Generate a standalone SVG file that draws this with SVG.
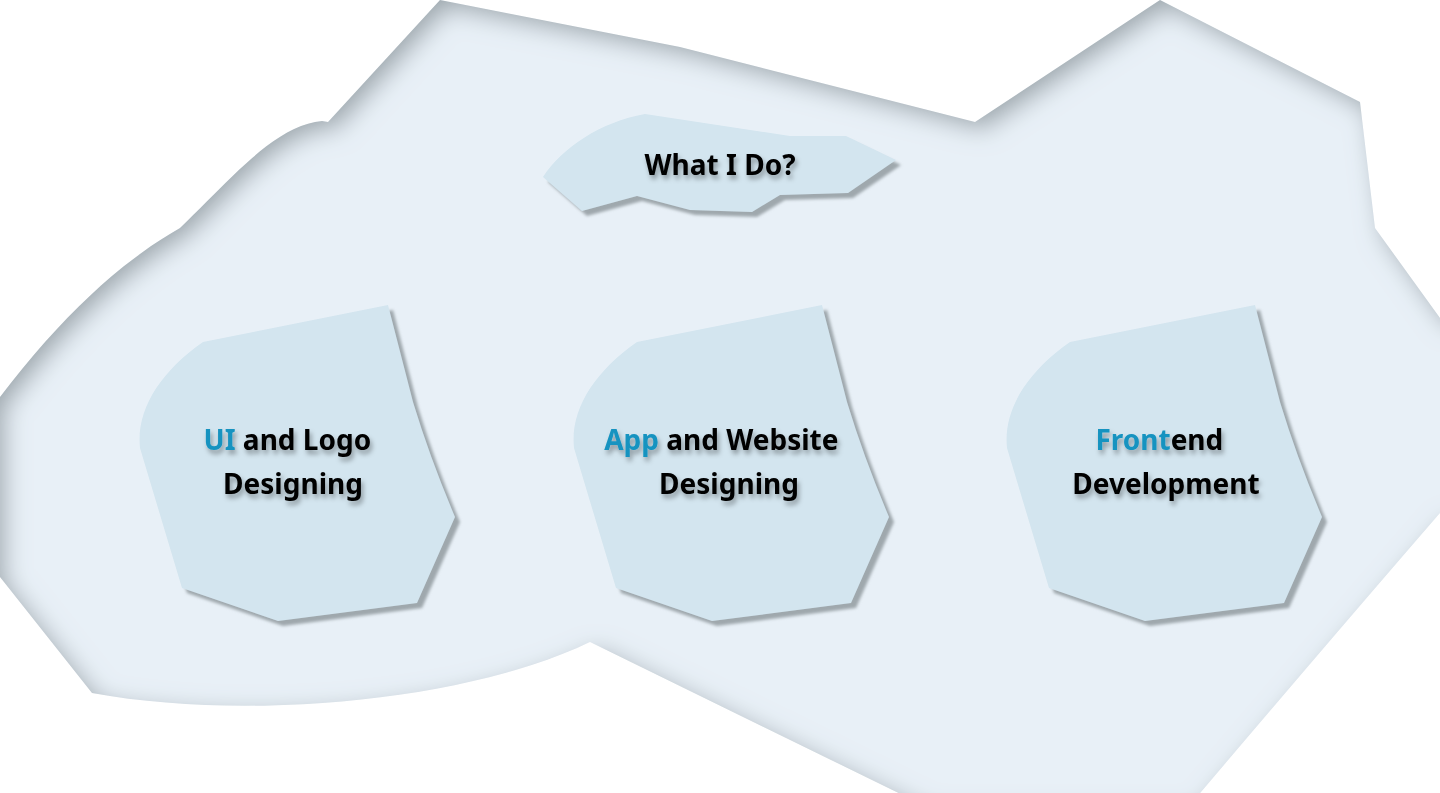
<svg xmlns="http://www.w3.org/2000/svg" width="1440" height="793" viewBox="0 0 1440 793">
  <defs>
    <!-- soft inner shading along the edges of the backdrop -->
    <filter id="innerShade" x="-5%" y="-5%" width="110%" height="110%">
      <feComponentTransfer in="SourceAlpha" result="inv">
        <feFuncA type="table" tableValues="1 0"/>
      </feComponentTransfer>
      <feOffset dx="8" dy="8"/>
      <feGaussianBlur stdDeviation="12" result="blur"/>
      <feFlood flood-color="#8a959b" flood-opacity="0.85"/>
      <feComposite in2="blur" operator="in"/>
      <feComposite in2="SourceAlpha" operator="in" result="shade"/>
      <feMerge>
        <feMergeNode in="SourceGraphic"/>
        <feMergeNode in="shade"/>
      </feMerge>
    </filter>
    <!-- cast shadow under the panels -->
    <filter id="panelShadow" x="-10%" y="-10%" width="125%" height="125%">
      <feGaussianBlur in="SourceAlpha" stdDeviation="1.8"/>
      <feOffset dx="5" dy="5" result="off"/>
      <feFlood flood-color="#9ba4a9" flood-opacity="0.95"/>
      <feComposite in2="off" operator="in"/>
      <feMerge>
        <feMergeNode/>
        <feMergeNode in="SourceGraphic"/>
      </feMerge>
    </filter>
    <!-- blurred shadow behind labels -->
    <filter id="textShadow" x="-10%" y="-30%" width="120%" height="170%">
      <feDropShadow dx="2" dy="4" stdDeviation="2.5" flood-color="#000" flood-opacity="0.35"/>
    </filter>
    <path id="panel" d="M 203,342 L 388,305 L 413,402 Q 430,458 455,517 L 417,603 L 278,621 L 182,588 L 140,448 C 136,410 160,372 203,342 Z"/>
  </defs>
  <style>
    .backdrop { fill: #e8f0f7; }
    .panel { fill: #d3e5ef; }
    .label { font-family: "Noto Sans", "Liberation Sans", sans-serif; font-weight: 700; font-size: 28px; fill: #000; text-anchor: middle; }
    .accent { fill: #1793c0; }
  </style>

  <rect width="1440" height="793" fill="#ffffff"/>

  <!-- backdrop -->
  <g id="backdrop" filter="url(#innerShade)">
    <path class="backdrop" d="M 440,0 L 680,47 L 975,122 L 1160,0 L 1360,102 L 1375,228 L 1440,318 L 1475,318 L 1475,513 L 1440,513 Q 1330,640 1190,805 L 923,805 L 590,642 C 470,700 250,722 92,693 L 0,577 L -3,577 L -3,397 L 0,397 C 60,318 120,262 180,228 C 230,180 275,125 322,121 L 328,122 Z"/>
  </g>

  <g id="connectors"/>

  <g id="title">
    <path class="panel" filter="url(#panelShadow)" d="M 543,177 C 562,148 600,122 645,114 L 790,136 L 846,136 L 896,160 L 848,193 L 780,195 L 752,212 L 690,210 L 637,196 L 582,211 Z"/>
    <text class="label" x="720" y="175" filter="url(#textShadow)">What I Do?</text>
  </g>

  <g id="node-ui-logo">
    <use href="#panel" class="panel" filter="url(#panelShadow)"/>
    <text class="label" filter="url(#textShadow)">
      <tspan x="291" y="450"><tspan class="accent">UI</tspan> and Logo</tspan>
      <tspan x="293" y="494">Designing</tspan>
    </text>
  </g>

  <g id="node-app-website" transform="translate(434,0)">
    <use href="#panel" class="panel" filter="url(#panelShadow)"/>
    <text class="label" filter="url(#textShadow)">
      <tspan x="291" y="450"><tspan class="accent">App</tspan> and Website</tspan>
      <tspan x="295" y="494">Designing</tspan>
    </text>
  </g>

  <g id="node-frontend" transform="translate(867,0)">
    <use href="#panel" class="panel" filter="url(#panelShadow)"/>
    <text class="label" filter="url(#textShadow)">
      <tspan x="296" y="450"><tspan class="accent">Front</tspan>end</tspan>
      <tspan x="299" y="494">Development</tspan>
    </text>
  </g>
</svg>
